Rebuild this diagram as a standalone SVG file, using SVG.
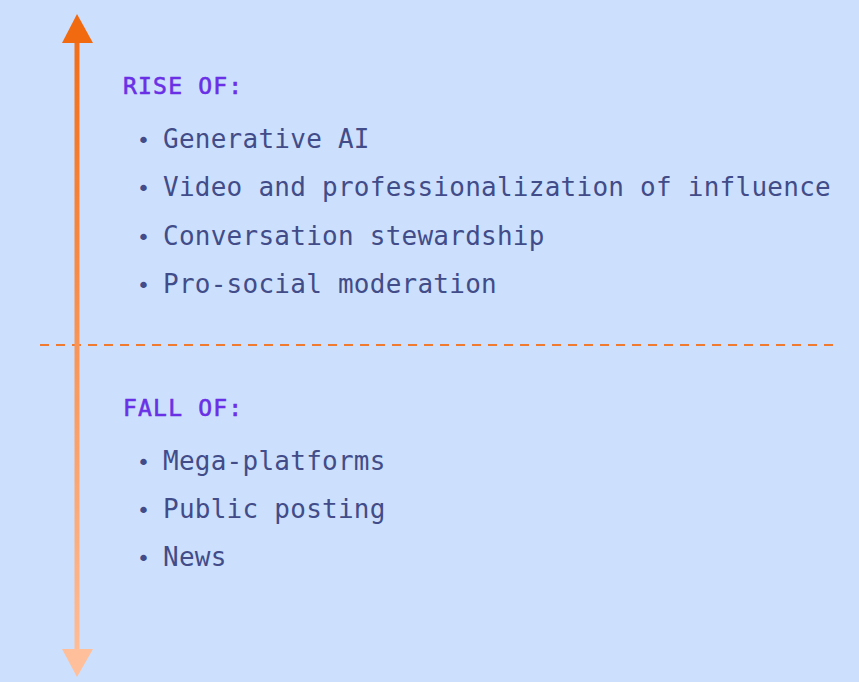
<svg xmlns="http://www.w3.org/2000/svg" width="859" height="682" viewBox="0 0 859 682">
  <defs>
    <linearGradient id="axisGrad" x1="0" y1="14" x2="0" y2="677" gradientUnits="userSpaceOnUse">
      <stop offset="0" stop-color="#F26A10"/>
      <stop offset="1" stop-color="#FFBF9B"/>
    </linearGradient>
  </defs>
  <style>
    .head { font-family: "DejaVu Sans Mono", "Liberation Mono", monospace; font-size: 23px; font-weight: normal; fill: #6A30E6; stroke: #6A30E6; stroke-width: 0.6px; letter-spacing: 1.2px; }
    .item { font-family: "DejaVu Sans Mono", "Liberation Mono", monospace; font-size: 26px; fill: #424C88; letter-spacing: 0.25px; }
    .bullet { font-family: "DejaVu Sans", sans-serif; font-size: 22px; fill: #424C88; text-anchor: middle; }
  </style>
  <rect x="0" y="0" width="859" height="682" fill="#CCE0FD"/>
  <g id="connectors">
    <line x1="40" y1="345" x2="838" y2="345" stroke="#F07A30" stroke-width="2" stroke-dasharray="9 7"/>
    <rect x="74.5" y="40" width="5" height="612" fill="url(#axisGrad)"/>
    <polygon points="77,14 62,43 93,43" fill="#F26A10"/>
    <polygon points="62,649 93,649 77,677" fill="#FFBF9B"/>
  </g>
  <g id="rise">
    <text class="head" x="123" y="94">RISE OF:</text>
    <text class="bullet" x="143.5" y="148">•</text>
    <text class="item" x="163" y="148">Generative AI</text>
    <text class="bullet" x="143.5" y="196">•</text>
    <text class="item" x="163" y="196">Video and professionalization of influence</text>
    <text class="bullet" x="143.5" y="245">•</text>
    <text class="item" x="163" y="245">Conversation stewardship</text>
    <text class="bullet" x="143.5" y="293">•</text>
    <text class="item" x="163" y="293">Pro-social moderation</text>
  </g>
  <g id="fall">
    <text class="head" x="123" y="416">FALL OF:</text>
    <text class="bullet" x="143.5" y="470">•</text>
    <text class="item" x="163" y="470">Mega-platforms</text>
    <text class="bullet" x="143.5" y="518">•</text>
    <text class="item" x="163" y="518">Public posting</text>
    <text class="bullet" x="143.5" y="566">•</text>
    <text class="item" x="163" y="566">News</text>
  </g>
</svg>
